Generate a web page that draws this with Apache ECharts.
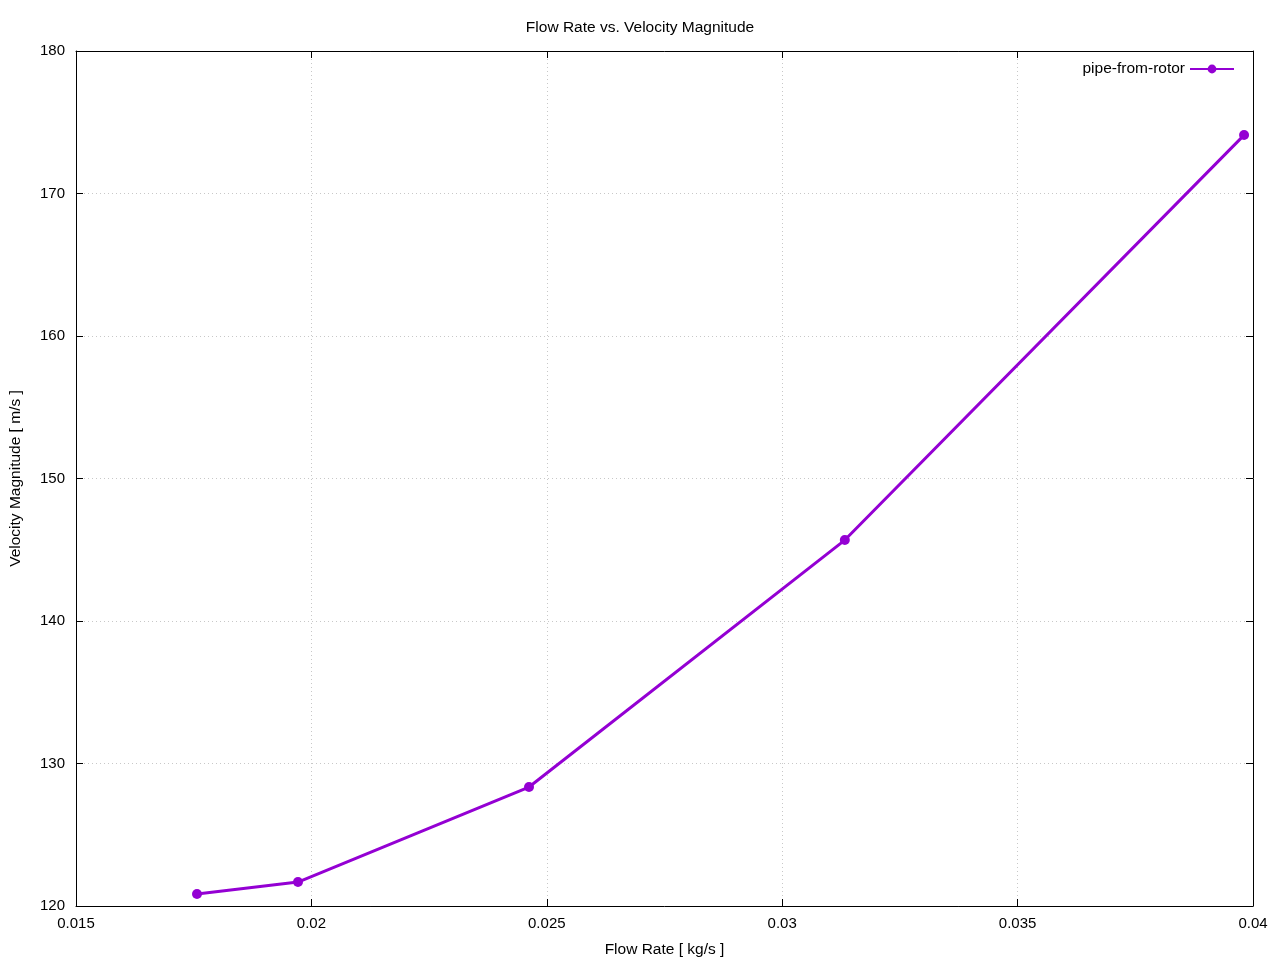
<!DOCTYPE html>
<html><head><meta charset="utf-8">
<script src="https://cdn.jsdelivr.net/npm/echarts@6/dist/echarts.min.js"></script>
<style>html,body{margin:0;padding:0;background:#fff}#c{width:1280px;height:960px}</style>
</head><body><div id="c"></div>
<script>
const flowRate = [0.01757, 0.019715, 0.024622, 0.03133, 0.03981];
const velocity = [120.84, 121.68, 128.35, 145.68, 174.1];
const seriesName = 'pipe-from-rotor';
const titleText = 'Flow Rate vs. Velocity Magnitude';
const xName = 'Flow Rate [ kg/s ]';
const yName = 'Velocity Magnitude [ m/s ]';

const font = 'Liberation Sans, Arial, sans-serif';
const chart = echarts.init(document.getElementById('c'));
const fmtX = v => String(Math.round(v * 1000) / 1000);
const common = {
  axisLine: {show: true, lineStyle: {color: '#000', width: 1}},
  axisTick: {show: true, inside: true, length: 7, lineStyle: {color: '#000'}},
};
chart.setOption({
  animation: false,
  backgroundColor: '#fff',
  title: {text: titleText, left: 'center', top: 15, textStyle: {fontFamily: font, fontSize: 15.5, fontWeight: 'normal', color: '#000'}},
  legend: {
    data: [seriesName], right: 40, top: 56, align: 'right', itemWidth: 44, itemHeight: 11, itemGap: 10,
    textStyle: {fontFamily: font, fontSize: 15.5, color: '#000'}
  },
  grid: {left: 76, right: 27, top: 51, bottom: 54, containLabel: false, outerBoundsMode: 'none'},
  xAxis: [
    Object.assign({type: 'value', min: 0.015, max: 0.04, interval: 0.005, position: 'bottom',
      name: xName, nameLocation: 'middle', nameGap: 36,
      nameTextStyle: {fontFamily: font, fontSize: 15.5, color: '#000'},
      axisLabel: {formatter: fmtX, fontFamily: font, fontSize: 15, color: '#000', margin: 10},
      splitLine: {show: true, lineStyle: {color: '#c8c8c8', type: [1, 3], width: 1}}}, common),
    Object.assign({type: 'value', min: 0.015, max: 0.04, interval: 0.005, position: 'top',
      axisLabel: {show: false}, splitLine: {show: false}}, common)
  ],
  yAxis: [
    Object.assign({type: 'value', min: 120, max: 180, interval: 10, position: 'left',
      name: yName, nameLocation: 'middle', nameGap: 52,
      nameTextStyle: {fontFamily: font, fontSize: 15.5, color: '#000'},
      axisLabel: {fontFamily: font, fontSize: 15, color: '#000', margin: 11},
      splitLine: {show: true, lineStyle: {color: '#c8c8c8', type: [1, 3], width: 1}}}, common),
    Object.assign({type: 'value', min: 120, max: 180, interval: 10, position: 'right',
      axisLabel: {show: false}, splitLine: {show: false}}, common)
  ],
  series: [{
    name: seriesName, type: 'line', xAxisIndex: 0, yAxisIndex: 0,
    data: flowRate.map((x, i) => [x, velocity[i]]),
    symbol: 'circle', symbolSize: 10, showAllSymbol: true,
    lineStyle: {color: '#9400d3', width: 3},
    itemStyle: {color: '#9400d3'}
  }]
});
</script></body></html>
